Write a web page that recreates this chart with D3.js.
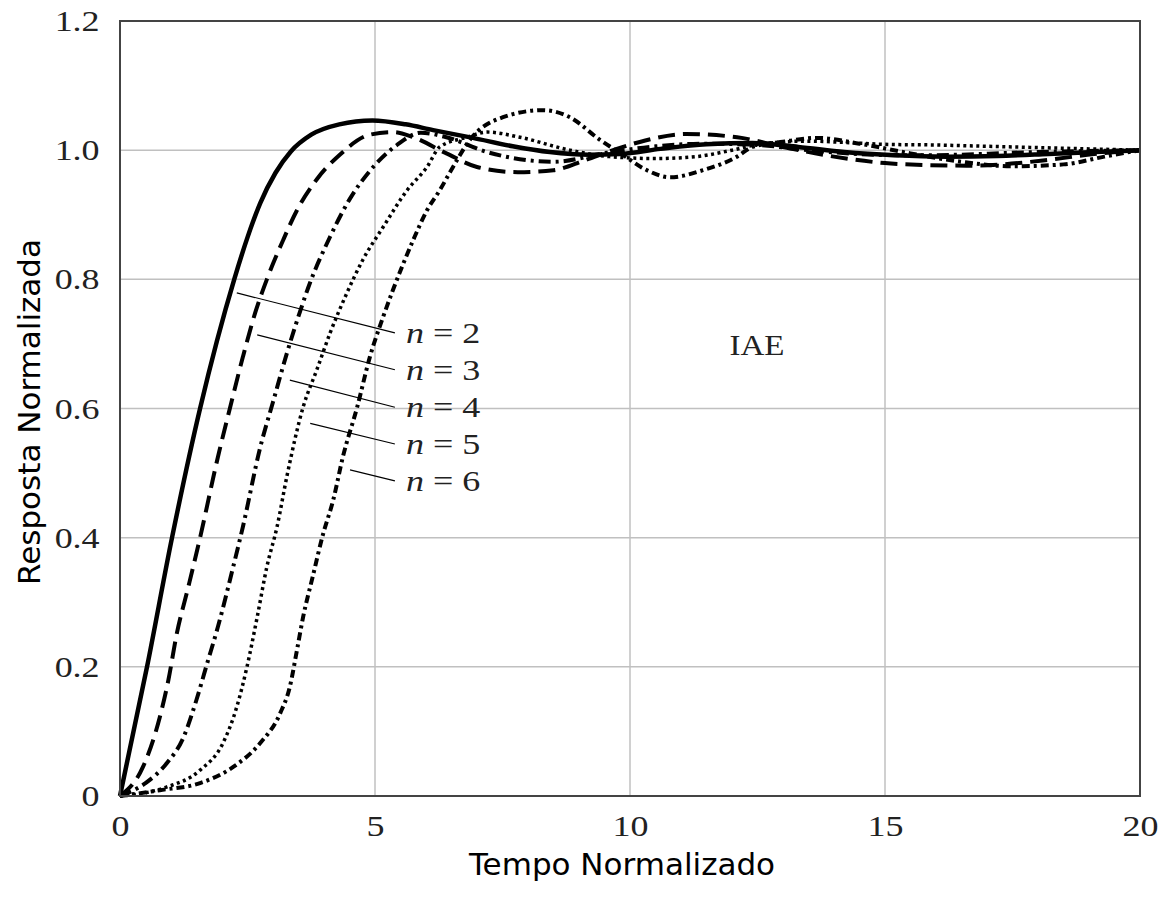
<!DOCTYPE html>
<html>
<head>
<meta charset="utf-8">
<script src="https://cdn.jsdelivr.net/npm/d3@7"></script>
<style>
  body { margin: 0; background: #fff; }
</style>
</head>
<body>
<div id="viz"></div>
<script>
// dimensions
var width = 1159;
var height = 899;
var mLeft = 120, mRight = 1140, mTop = 21, mBottom = 796;
var serif = "font-family: 'Liberation Serif', serif; font-size: 30px; fill: #222;";
var stretch = 1.2; // the serif glyphs in the picture are a bit wide

// tick values
var xTicks = [0, 5, 10, 15, 20];
var yTicks = [0, 0.2, 0.4, 0.6, 0.8, 1.0, 1.2];
var yTickLabels = ["0", "0.2", "0.4", "0.6", "0.8", "1.0", "1.2"];

// series (time, response)
var t2 = [0, 0.53, 1.02, 1.57, 2.24, 2.5, 2.75, 3.05, 3.35, 3.75, 4.3, 4.95, 5.6, 6.14, 6.92, 7.7, 8.43, 9.2, 9.8, 10.6, 11.5, 12.4, 13.3, 14.2, 15.2, 16.2, 17.2, 18.2, 19.1, 20];
var y2 = [0, 0.2, 0.4, 0.6, 0.8, 0.865, 0.918, 0.965, 0.998, 1.024, 1.04, 1.046, 1.04, 1.031, 1.019, 1.006, 0.997, 0.993, 0.994, 1.002, 1.009, 1.011, 1.005, 0.997, 0.992, 0.99, 0.991, 0.994, 0.997, 1.0];

var t3 = [0, 0.45, 0.78, 0.95, 1.11, 1.34, 1.57, 1.92, 2.16, 2.41, 2.65, 2.88, 3.2, 3.47, 3.86, 4.31, 4.9, 5.35, 5.75, 6.4, 7.0, 7.8, 8.5, 9.1, 9.67, 10.3, 11.1, 12.1, 13.0, 14.0, 15.0, 15.8, 16.6, 17.3, 18.2, 19.1, 20];
var y3 = [0, 0.045, 0.122, 0.18, 0.25, 0.324, 0.40, 0.525, 0.602, 0.68, 0.748, 0.80, 0.861, 0.907, 0.955, 0.993, 1.024, 1.028, 1.02, 0.995, 0.974, 0.966, 0.969, 0.984, 1.0, 1.015, 1.025, 1.02, 1.005, 0.99, 0.98, 0.977, 0.976, 0.978, 0.985, 0.994, 1.0];

var t4 = [0, 0.5, 0.92, 1.24, 1.5, 1.7, 1.92, 2.22, 2.41, 2.75, 3.0, 3.27, 3.53, 3.69, 4.12, 4.51, 4.9, 5.43, 5.9, 6.4, 7.2, 8.5, 9.55, 10.5, 11.5, 12.5, 13.5, 14.5, 15.5, 16.5, 17.5, 18.5, 20];
var y4 = [0, 0.02, 0.051, 0.09, 0.149, 0.203, 0.262, 0.355, 0.417, 0.54, 0.61, 0.685, 0.75, 0.787, 0.866, 0.925, 0.968, 1.008, 1.027, 1.02, 0.997, 0.982, 0.996, 1.006, 1.01, 1.008, 1.0, 0.994, 0.992, 0.993, 0.996, 0.998, 1.0];

var t5 = [0, 0.5, 0.92, 1.57, 2.02, 2.29, 2.49, 2.69, 2.88, 3.08, 3.27, 3.59, 3.86, 4.12, 4.45, 4.76, 5.16, 5.63, 6.02, 6.27, 6.8, 7.2, 7.84, 8.82, 9.6, 10.5, 11.3, 12.0, 12.6, 13.5, 14.2, 15.0, 16.0, 17.0, 18.0, 19.0, 20];
var y5 = [0, 0.005, 0.014, 0.04, 0.082, 0.138, 0.2, 0.277, 0.355, 0.417, 0.494, 0.602, 0.66, 0.717, 0.779, 0.83, 0.881, 0.938, 0.974, 1.005, 1.02, 1.028, 1.02, 1.0, 0.99, 0.987, 0.99, 1.0, 1.01, 1.014, 1.012, 1.009, 1.008, 1.006, 1.004, 1.002, 1.0];

var t6 = [0, 0.78, 1.57, 2.22, 2.75, 3.14, 3.33, 3.47, 3.59, 3.78, 3.98, 4.18, 4.37, 4.65, 4.9, 5.16, 5.35, 5.75, 6.02, 6.27, 6.53, 6.86, 7.51, 8.29, 8.82, 9.41, 9.8, 10.33, 10.78, 11.43, 12.1, 12.4, 13.0, 13.66, 14.5, 15.5, 16.5, 17.5, 18.5, 19.3, 20];
var y6 = [0, 0.009, 0.02, 0.045, 0.082, 0.128, 0.169, 0.226, 0.277, 0.34, 0.405, 0.458, 0.525, 0.602, 0.68, 0.742, 0.783, 0.861, 0.907, 0.938, 0.974, 1.016, 1.051, 1.062, 1.051, 1.016, 0.996, 0.969, 0.958, 0.969, 0.99, 1.005, 1.013, 1.019, 1.01, 0.995, 0.982, 0.975, 0.978, 0.99, 1.0];

var orders = [2, 3, 4, 5, 6];
var seriesT = [t2, t3, t4, t5, t6];
var seriesY = [y2, y3, y4, y5, y6];

// leader lines for the labels: [x0, y0, x1, y1] in data units
var leaders = [
    [2.29, 0.779, 5.39, 0.717],
    [2.69, 0.714, 5.39, 0.660],
    [3.33, 0.644, 5.39, 0.602],
    [3.73, 0.577, 5.39, 0.545],
    [4.51, 0.505, 5.39, 0.488]
];

var dashes = [null, "17,8", "12,5,3,5", "3,3.5", "8,4,3,4"];
var widths = [4.5, 4, 4, 3.5, 4];

var svg = d3.select("#viz")
    .append("svg")
    .attr("width", width)
    .attr("height", height);

var xscale = d3.scaleLinear().domain([0, 20]).range([mLeft, mRight]);
var yscale = d3.scaleLinear().domain([0, 1.2]).range([mBottom, mTop]);

// grid
svg.append("g")
    .selectAll("line")
    .data(xTicks.slice(1, -1))
    .enter()
    .append("line")
    .attr("x1", function(d) { return xscale(d); })
    .attr("x2", function(d) { return xscale(d); })
    .attr("y1", mTop)
    .attr("y2", mBottom)
    .attr("stroke", "#c0c0c0")
    .attr("stroke-width", 1.5);

svg.append("g")
    .selectAll("line")
    .data(yTicks.slice(1, -1))
    .enter()
    .append("line")
    .attr("x1", mLeft)
    .attr("x2", mRight)
    .attr("y1", function(d) { return yscale(d); })
    .attr("y2", function(d) { return yscale(d); })
    .attr("stroke", "#c0c0c0")
    .attr("stroke-width", 1.5);

// axes, only the labels are kept
var xAxis = svg.append("g")
    .attr("transform", "translate(0," + mBottom + ")")
    .call(d3.axisBottom(xscale).tickValues(xTicks).tickSize(0).tickPadding(19));
xAxis.select(".domain").remove();
xAxis.selectAll("text")
    .attr("style", serif)
    .attr("transform", "scale(" + stretch + ",1)");

var yAxis = svg.append("g")
    .attr("transform", "translate(" + mLeft + ",0)")
    .call(d3.axisLeft(yscale).tickValues(yTicks).tickSize(0).tickPadding(17)
        .tickFormat(function(d, i) { return yTickLabels[i]; }));
yAxis.select(".domain").remove();
yAxis.selectAll("text")
    .attr("style", serif)
    .attr("transform", "scale(" + stretch + ",1)");

// curves
var line = d3.line()
    .x(function(d) { return xscale(d[0]); })
    .y(function(d) { return yscale(d[1]); })
    .curve(d3.curveMonotoneX);

seriesT.forEach(function(ts, i) {
    var pts = ts.map(function(t, j) { return [t, seriesY[i][j]]; });
    svg.append("path")
        .datum(pts)
        .attr("d", line)
        .attr("fill", "none")
        .attr("stroke", "#000")
        .attr("stroke-width", widths[i])
        .attr("stroke-dasharray", dashes[i]);
});

// frame
svg.append("rect")
    .attr("x", mLeft)
    .attr("y", mTop)
    .attr("width", mRight - mLeft)
    .attr("height", mBottom - mTop)
    .attr("fill", "none")
    .attr("stroke", "#444")
    .attr("stroke-width", 2);

// labels with leader lines
svg.selectAll(".leader")
    .data(leaders)
    .enter()
    .append("line")
    .attr("x1", function(d) { return xscale(d[0]); })
    .attr("y1", function(d) { return yscale(d[1]); })
    .attr("x2", function(d) { return xscale(d[2]); })
    .attr("y2", function(d) { return yscale(d[3]); })
    .attr("stroke", "#000")
    .attr("stroke-width", 1.2);

var labels = svg.selectAll(".nlabel")
    .data(leaders)
    .enter()
    .append("text")
    .attr("transform", function(d) {
        return "translate(" + (xscale(d[2]) + 11) + "," + (yscale(d[3]) + 10) + ") scale(" + stretch + ",1)";
    })
    .attr("style", serif);
labels.append("tspan").attr("font-style", "italic").text("n");
labels.append("tspan").text(function(d, i) { return " = " + orders[i]; });

svg.append("text")
    .attr("transform", "translate(" + xscale(12.49) + "," + yscale(0.683) + ") scale(1.1,1)")
    .attr("text-anchor", "middle")
    .attr("style", serif)
    .text("IAE");

// axis titles
svg.append("text")
    .attr("x", 622)
    .attr("y", 875)
    .attr("text-anchor", "middle")
    .attr("style", "font-family: 'DejaVu Sans', sans-serif; font-size: 31px; fill: #000;")
    .text("Tempo Normalizado");

svg.append("text")
    .attr("transform", "translate(40,412) rotate(-90)")
    .attr("text-anchor", "middle")
    .attr("style", "font-family: 'DejaVu Sans', sans-serif; font-size: 31px; fill: #000;")
    .text("Resposta Normalizada");
</script>
</body>
</html>
